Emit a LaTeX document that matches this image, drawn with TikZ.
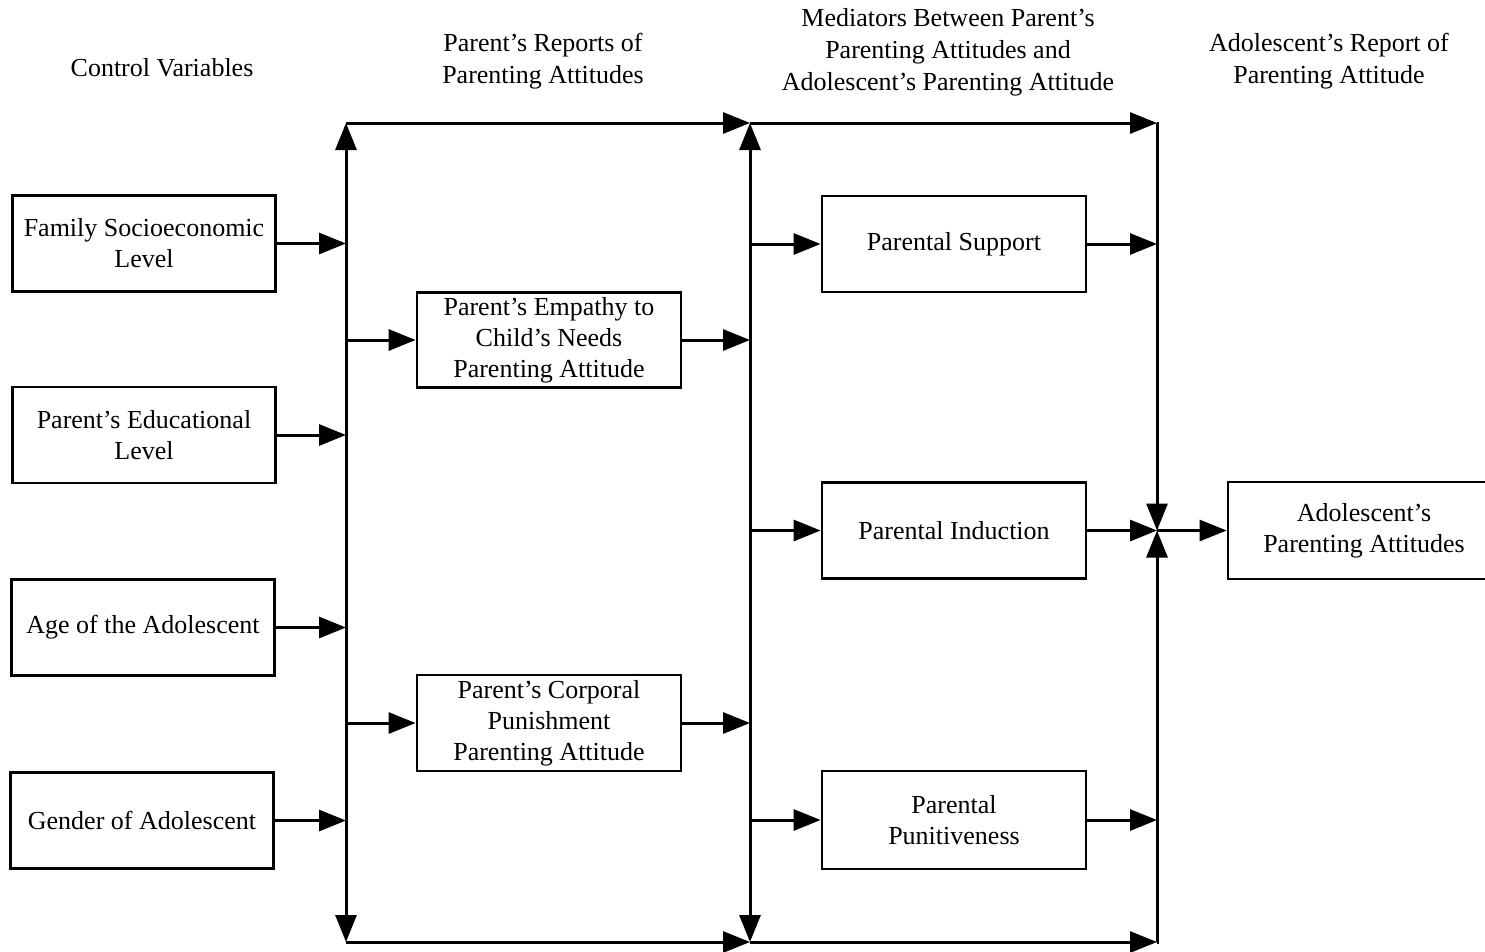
\documentclass[tikz,border=0pt]{standalone}
\usepackage{fontspec}
\setmainfont{Liberation Serif}
\usetikzlibrary{arrows.meta}
\begin{document}
\begin{tikzpicture}[x=1pt,y=-1pt,
  box/.style={draw, line width=2.8pt, minimum width=263pt, minimum height=96pt,
    inner sep=0pt, align=center, font=\fontsize{26}{31}\selectfont},
  head/.style={align=center, inner sep=0pt, font=\fontsize{26}{32}\selectfont},
  bus/.style={line width=3pt},
  arr/.style={line width=3pt, -{Triangle[length=27pt,width=21pt]}},
  dblarr/.style={line width=3pt, {Triangle[length=27pt,width=21pt]}-{Triangle[length=27pt,width=21pt]}},
]
\useasboundingbox (0,0) rectangle (1485,951);
\clip (0,0) rectangle (1485,951);

% column headings
\node[head] (hctrl) at (162,68) {Control Variables};
\node[head] (hpar)  at (543,61) {Parent's Reports of\\Parenting Attitudes};
\node[head] (hmed)  at (948,52) {Mediators Between Parent's\\Parenting Attitudes and\\Adolescent's Parenting Attitude};
\node[head] (hado)  at (1329,61) {Adolescent's Report of\\Parenting Attitude};

% control variables
\node[box] (c1) at (144,243.5) {Family Socioeconomic\\Level};
\node[box] (c2) at (144,435)   {Parent's Educational\\Level};
\node[box] (c3) at (143,627.5) {Age of the Adolescent};
\node[box] (c4) at (142,820.5) {Gender of Adolescent};

% parent's reports
\node[box, minimum width=264pt, minimum height=95pt] (p1) at (549,340) {Parent's Empathy to\\Child's Needs\\Parenting Attitude};
\node[box, minimum width=264pt, minimum height=96pt] (p2) at (549,723) {Parent's Corporal\\Punishment\\Parenting Attitude};

% mediators
\node[box, minimum width=264pt] (m1) at (954,244) {Parental Support};
\node[box, minimum width=264pt] (m2) at (954,530.5) {Parental Induction};
\node[box, minimum width=264pt, minimum height=98pt] (m3) at (954,820) {Parental\\Punitiveness};

% outcome (right side runs off the page)
\node[box, minimum width=272pt, minimum height=97pt] (out) at (1364,530.5) {Adolescent's\\Parenting Attitudes};

% bus junctions
\coordinate (v1t) at (346,123);
\coordinate (v1b) at (346,942);
\coordinate (v2t) at (750,123);
\coordinate (v2b) at (750,942);
\coordinate (v3t) at (1157,123);
\coordinate (v3b) at (1157,942);
\coordinate (v3m) at (1157,530.5);

% vertical buses and the top/bottom runs
\draw[dblarr] (v1b) -- (v1t);
\draw[dblarr] (v2b) -- (v2t);
\draw[arr] (v1t) -- (v2t);
\draw[arr] (v1b) -- (v2b);
\draw[arr] (v2t) -- (v3t);
\draw[arr] (v2b) -- (v3b);
\draw[arr] (v3t) -- (v3m);
\draw[arr] (v3b) -- (v3m);
\draw[bus] (v3t) -- ++(1.5,0);
\draw[bus] (v3b) -- ++(1.5,0);

% control variables into the first bus
\foreach \n in {c1,c2,c3,c4}
  \draw[arr] (\n.east) -- (\n.east -| v1t);

% first bus into parent's reports, then on to the second bus
\foreach \n in {p1,p2}{
  \draw[arr] (\n.west -| v1t) -- (\n.west);
  \draw[arr] (\n.east) -- (\n.east -| v2t);
}

% second bus into mediators, then on to the third bus
\foreach \n in {m1,m2,m3}
  \draw[arr] (\n.west -| v2t) -- (\n.west);
\draw[arr] (m1.east) -- (m1.east -| v3t);
\draw[arr] (m2.east) -- (v3m);
\draw[arr] (m3.east) -- (m3.east -| v3t);

% into the outcome
\draw[arr] (v3m) -- (out.west);
\end{tikzpicture}
\end{document}
